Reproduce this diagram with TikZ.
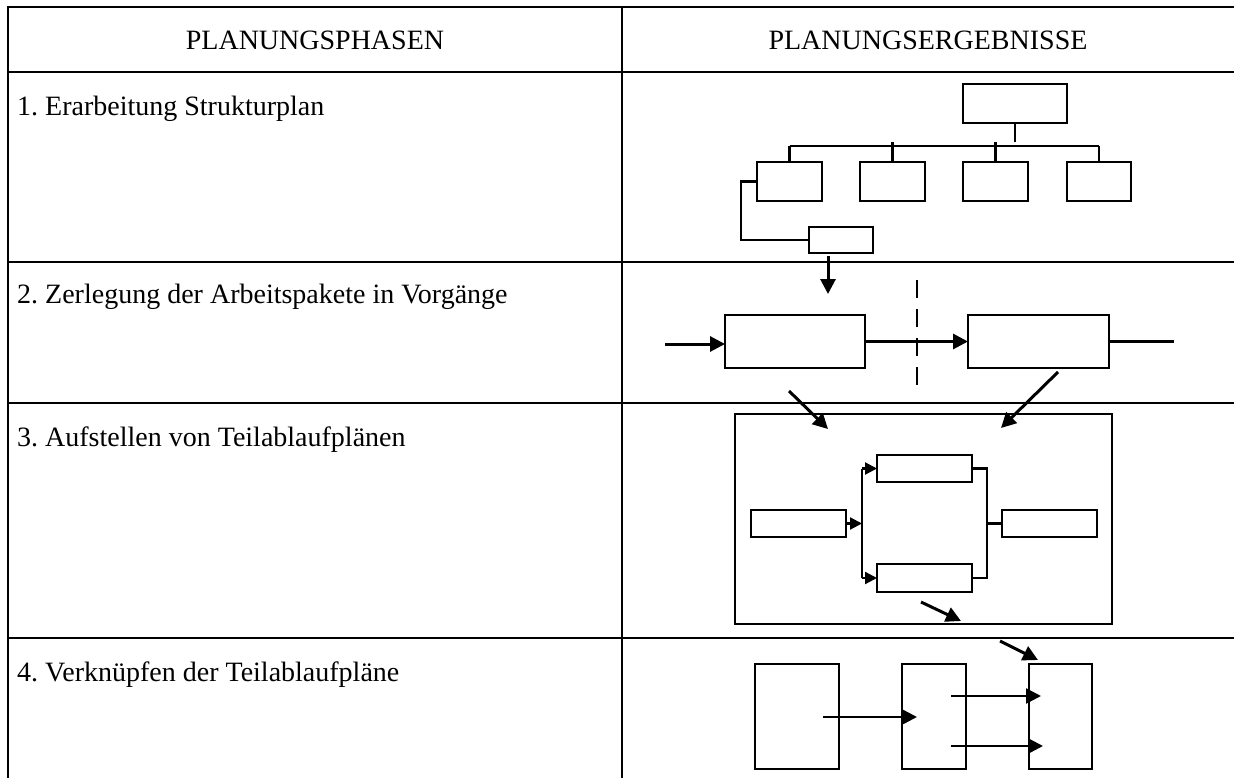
\documentclass[tikz,border=0pt]{standalone}
\usepackage{fontspec}
\setmainfont{Liberation Serif}
\usetikzlibrary{arrows.meta}
\frenchspacing
\begin{document}
\begin{tikzpicture}[x=1pt,y=-1pt,
  tablerule/.style={line width=2.6pt},
  box/.style={draw, line width=2.2pt, rectangle, inner sep=0pt, outer sep=0pt},
  conn/.style={line width=2.2pt},
  arr/.style={line width=3pt, -{Triangle[length=15pt,width=15pt]}},
  arrs/.style={line width=2.2pt, -{Triangle[length=12pt,width=12pt]}},
  txt/.style={inner sep=0pt, font=\fontsize{28}{33}\selectfont},
  dashline/.style={line width=2.8pt, dash pattern=on 18pt off 11pt}]
\useasboundingbox (0,0) rectangle (1234,778);

% table frame and rules
\draw[tablerule] (1234,7) -- (8,7) -- (8,778);
\draw[tablerule] (622,7) -- (622,778);
\foreach \yy in {72,262,403,638} {\draw[tablerule] (8,\yy) -- (1234,\yy);}

% column heads and phase names
\node[txt, anchor=base] (h1) at (315,50) {PLANUNGSPHASEN};
\node[txt, anchor=base] (h2) at (928,50) {PLANUNGSERGEBNISSE};
\node[txt, anchor=base west] (p1) at (17,116) {1. Erarbeitung Strukturplan};
\node[txt, anchor=base west] (p2) at (17,303) {2. Zerlegung der Arbeitspakete in Vorgänge};
\node[txt, anchor=base west] (p3) at (17,446) {3. Aufstellen von Teilablaufplänen};
\node[txt, anchor=base west] (p4) at (17,681) {4. Verknüpfen der Teilablaufpläne};

% ---- 1: structure plan ----
\node[box, minimum width=104pt, minimum height=39pt] (top) at (1015,103.5) {};
\node[box, minimum width=65pt, minimum height=39pt] (c1) at (789.5,181.5) {};
\node[box, minimum width=65pt, minimum height=39pt] (c2) at (892.5,181.5) {};
\node[box, minimum width=65pt, minimum height=39pt] (c3) at (995.5,181.5) {};
\node[box, minimum width=64pt, minimum height=39pt] (c4) at (1099,181.5) {};
\node[box, minimum width=64pt, minimum height=26pt] (sub) at (841,240) {};
\coordinate (busL) at (789.5,146);
\coordinate (busR) at (1099,146);
\draw[conn] (busL) -- (busR);
\draw[conn] (top.south) -- ++(0,19);
\draw[conn] (c1.north) -- (c1.north |- busL);
\draw[conn] (c2.north) -- ++(0,-20);
\draw[conn] (c3.north) -- ++(0,-20);
\draw[conn] (c4.north) -- (c4.north |- busR);
\draw[conn] (c1.west) -- ++(-16,0) |- (sub.west);

% ---- 2: activities ----
\coordinate (dnS) at (828,256);
\coordinate (dnE) at (828,294);
\draw[arr] (dnS) -- (dnE);
\node[box, minimum width=140pt, minimum height=53pt] (A) at (795,341.5) {};
\node[box, minimum width=141pt, minimum height=53pt] (B) at (1038.5,341.5) {};
\coordinate (inA) at (665,344);
\draw[arr] (inA) -- (inA -| A.west);
\draw[arr] (A.east) -- (B.west);
\draw[line width=3pt] (B.east) -- ++(65,0);
\coordinate (cutT) at (917,280);
\coordinate (cutB) at (917,385);
\draw[dashline] (cutT) -- (cutB);
\coordinate (d1S) at (789,391);
\coordinate (d1E) at (828,429);
\draw[arr] (d1S) -- (d1E);
\coordinate (d2S) at (1058,372);
\coordinate (d2E) at (1001,428);
\draw[arr] (d2S) -- (d2E);

% ---- 3: partial flow plan ----
\node[box, minimum width=377pt, minimum height=210pt] (frame) at (923.5,519) {};
\node[box, minimum width=95pt, minimum height=27pt] (tb) at (924.5,468.5) {};
\node[box, minimum width=95pt, minimum height=28pt] (bb) at (924.5,578) {};
\node[box, minimum width=95pt, minimum height=27pt] (lb) at (798.5,523.5) {};
\node[box, minimum width=95pt, minimum height=27pt] (rb) at (1049.5,523.5) {};
\coordinate (split) at (862,523.5);
\coordinate (merge) at (987,523.5);
\draw[arrs] (lb.east) -- (split);
\draw[conn] (tb.west -| split) -- (bb.west -| split);
\draw[arrs] (tb.west -| split) -- (tb.west);
\draw[arrs] (bb.west -| split) -- (bb.west);
\draw[conn] (tb.east) -- (tb.east -| merge) -- (bb.east -| merge) -- (bb.east);
\draw[conn] (merge) -- (rb.west);
\coordinate (d3S) at (921,602);
\coordinate (d3E) at (961,621);
\draw[arr] (d3S) -- (d3E);

% ---- 4: linked plans ----
\coordinate (d4S) at (1000,641);
\coordinate (d4E) at (1038,660);
\draw[arr] (d4S) -- (d4E);
\node[box, minimum width=84pt, minimum height=105pt] (P1) at (797,716.5) {};
\node[box, minimum width=64pt, minimum height=105pt] (P2) at (934,716.5) {};
\node[box, minimum width=63pt, minimum height=105pt] (P3) at (1060.5,716.5) {};
\coordinate (l1S) at (823,717);
\coordinate (l1E) at (917,717);
\draw[arr, line width=2.6pt] (l1S) -- (l1E);
\coordinate (l2S) at (951,696);
\coordinate (l2E) at (1041,696);
\draw[arr, line width=2.6pt] (l2S) -- (l2E);
\coordinate (l3S) at (951,746);
\coordinate (l3E) at (1043,746);
\draw[arr, line width=2.6pt] (l3S) -- (l3E);
\end{tikzpicture}
\end{document}
